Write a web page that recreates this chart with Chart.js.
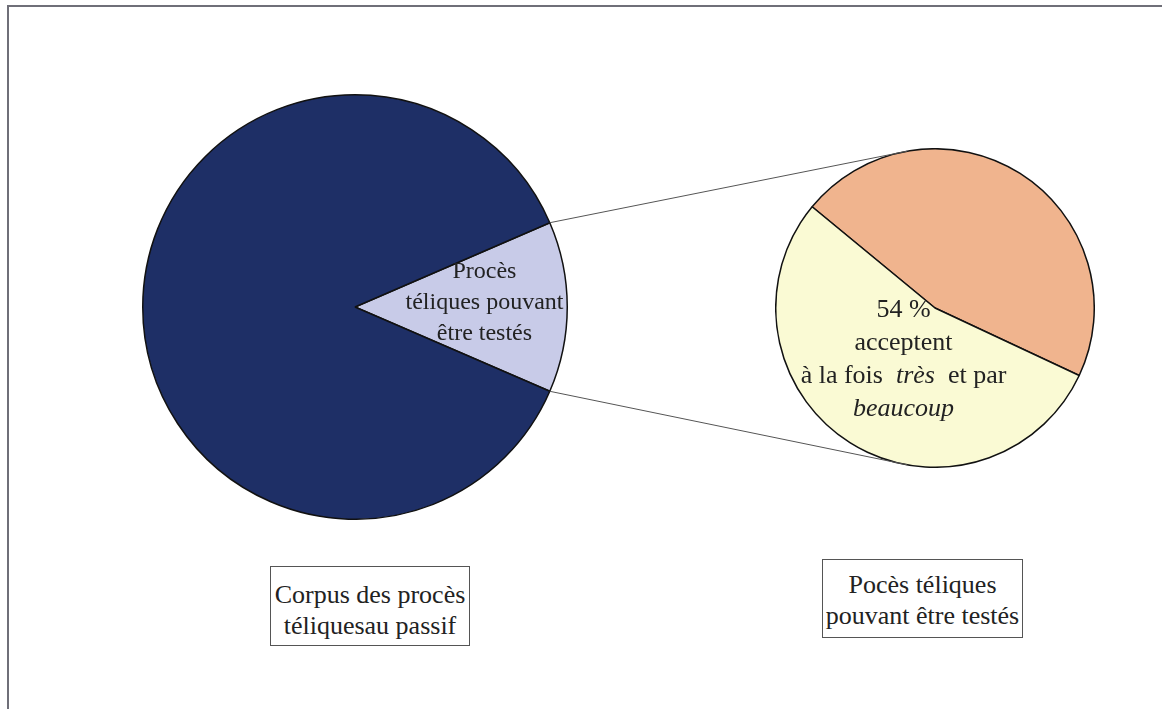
<!DOCTYPE html>
<html>
<head>
<meta charset="utf-8">
<script src="https://cdn.jsdelivr.net/npm/chart.js@4"></script>
<style>
  body { margin: 0; background: #fff; }
  #page { position: relative; width: 1162px; height: 709px; overflow: hidden; background: #fff; }
  #frame { position: absolute; left: 7px; top: 5px; width: 1160px; height: 710px;
           border-left: 2px solid #6f6f78; border-top: 2px solid #6f6f78; }
  canvas.pie { position: absolute; }
  #links { position: absolute; left: 0; top: 0; pointer-events: none; }
  .box { position: absolute; border: 1px solid #555; font-family: "Liberation Serif", serif;
         font-size: 26px; line-height: 31px; color: #222; text-align: center; background: #fff;
         white-space: nowrap; }
</style>
</head>
<body>
<div id="page">
  <div id="frame"></div>
  <canvas id="left-pie" class="pie" width="426" height="426" style="left:142px;top:94px"></canvas>
  <canvas id="right-pie" class="pie" width="320" height="320" style="left:775px;top:148px"></canvas>
  <canvas id="links" width="1162" height="709"></canvas>
  <div class="box" style="left:270px;top:566px;width:198px;height:78px">
    <div style="margin-top:12px">Corpus des procès<br>téliquesau passif</div>
  </div>
  <div class="box" style="left:822px;top:559px;width:199px;height:77px">
    <div style="margin-top:9px">Pocès téliques<br>pouvant être testés</div>
  </div>
</div>
<script>
const corpusLabels = ['Procès téliques pouvant être testés', 'Autres procès téliques au passif']
const corpusValues = [13, 87]
const corpusColors = ['#c8cbe8', '#1e2f66']

const testLabels = ['Refusent', 'Acceptent très et par beaucoup']
const testValues = [46, 54]
const testColors = ['#f0b48e', '#fafad4']

const serif = '"Liberation Serif", serif'

// text in a slice: lines of [text, italic] parts, placed along the slice's middle angle
function sliceText(index, frac, dy, size, lines, lineHeight) {
    return {
        id: 'sliceText',
        afterDatasetsDraw(chart) {
            const arc = chart.getDatasetMeta(0).data[index]
            const mid = (arc.startAngle + arc.endAngle) / 2
            const cx = arc.x + Math.cos(mid) * arc.outerRadius * frac
            const cy = arc.y + Math.sin(mid) * arc.outerRadius * frac + dy
            const ctx = chart.ctx
            ctx.save()
            ctx.fillStyle = '#222'
            ctx.textBaseline = 'middle'
            ctx.textAlign = 'left'
            const top = cy - (lines.length - 1) * lineHeight / 2
            lines.forEach((parts, i) => {
                let width = 0
                parts.forEach(p => {
                    ctx.font = (p[1] ? 'italic ' : '') + size + 'px ' + serif
                    width += ctx.measureText(p[0]).width
                })
                let x = cx - width / 2
                parts.forEach(p => {
                    ctx.font = (p[1] ? 'italic ' : '') + size + 'px ' + serif
                    ctx.fillText(p[0], x, top + i * lineHeight)
                    x += ctx.measureText(p[0]).width
                })
            })
            ctx.restore()
        }
    }
}

function pieConfig(labels, values, colors, rotation, plugin) {
    return {
        type: 'pie',
        data: {
            labels: labels,
            datasets: [{
                data: values,
                backgroundColor: colors,
                borderColor: '#111',
                borderWidth: 1.5
            }]
        },
        options: {
            responsive: false,
            animation: false,
            rotation: rotation,
            layout: { padding: 0 },
            plugins: {
                legend: { display: false },
                tooltip: { enabled: false }
            }
        },
        plugins: [plugin]
    }
}

const leftChart = new Chart(document.getElementById('left-pie').getContext('2d'),
    pieConfig(corpusLabels, corpusValues, corpusColors, 90 - corpusValues[0] * 1.8,
        sliceText(0, 0.61, -4, 24, [[['Procès', false]], [['téliques pouvant', false]], [['être testés', false]]], 31)))

const rightChart = new Chart(document.getElementById('right-pie').getContext('2d'),
    pieConfig(testLabels, testValues, testColors, -50.5,
        sliceText(1, 0.37, 2, 26, [[['54 %', false]], [['acceptent', false]], [['à la fois  ', false], ['très', true], ['  et par', false]], [['beaucoup', true]]], 33)))

// connector lines from the small slice to the second pie
function drawLinks() {
    const ctx = document.getElementById('links').getContext('2d')
    const a = leftChart.getDatasetMeta(0).data[0]
    const b = rightChart.getDatasetMeta(0).data[0]
    const la = leftChart.canvas, lb = rightChart.canvas
    const ax = la.offsetLeft + a.x, ay = la.offsetTop + a.y
    const bx = lb.offsetLeft + b.x, by = lb.offsetTop + b.y
    const ends = [a.startAngle, a.endAngle]
    const targets = [-Math.PI * 100 / 180, Math.PI * 100 / 180]
    ctx.strokeStyle = '#555'
    ctx.lineWidth = 1
    ends.forEach((ang, i) => {
        ctx.beginPath()
        ctx.moveTo(ax + Math.cos(ang) * a.outerRadius, ay + Math.sin(ang) * a.outerRadius)
        ctx.lineTo(bx + Math.cos(targets[i]) * b.outerRadius, by + Math.sin(targets[i]) * b.outerRadius)
        ctx.stroke()
    })
}
drawLinks()
</script>
</body>
</html>
